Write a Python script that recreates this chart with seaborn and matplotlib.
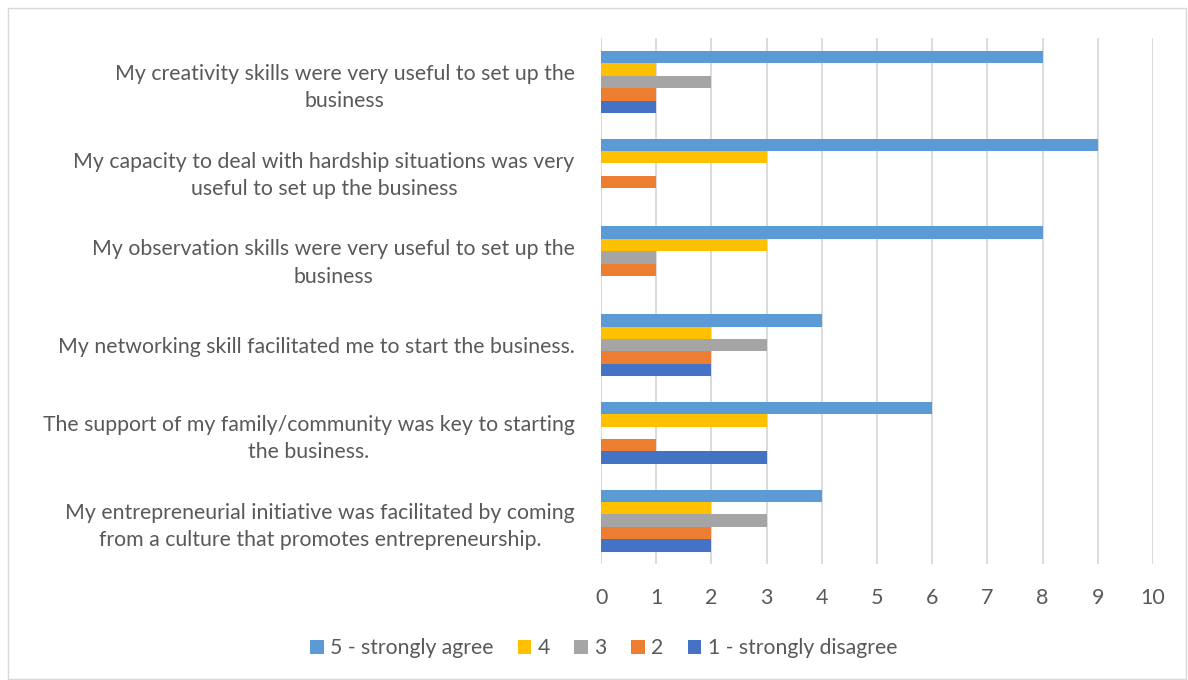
import seaborn as sns
import matplotlib.pyplot as plt
from matplotlib.patches import Rectangle
import pandas as pd

# Survey statements (top to bottom as shown)
statements = [
    "My creativity skills were very useful to set up the\nbusiness",
    "My capacity to deal with hardship situations was very\nuseful to set up the business",
    "My observation skills were very useful to set up the\nbusiness",
    "My networking skill facilitated me to start the business.",
    "The support of my family/community was key to starting\nthe business.",
    "My entrepreneurial initiative was facilitated by coming\nfrom a culture that promotes entrepreneurship.",
]
levels = ["5 - strongly agree", "4", "3", "2", "1 - strongly disagree"]

agree5 = [8, 9, 8, 4, 6, 4]
agree4 = [1, 3, 3, 2, 3, 2]
neutral3 = [2, 0, 1, 3, 0, 3]
disagree2 = [1, 1, 1, 2, 1, 2]
disagree1 = [1, 0, 0, 2, 3, 2]

colors = ["#5B9BD5", "#FFC000", "#A5A5A5", "#ED7D31", "#4472C4"]

rows = []
for lvl, vals in zip(levels, [agree5, agree4, neutral3, disagree2, disagree1]):
    for s, v in zip(statements, vals):
        rows.append({"statement": s, "level": lvl, "count": v})
df = pd.DataFrame(rows)

sns.set_style("white")
plt.rcParams["font.family"] = ["Lato", "DejaVu Sans"]
text_col = "#595959"

fig = plt.figure(figsize=(11.88, 6.8), dpi=100)
ax = fig.add_axes([0.506, 0.17, 0.4645, 0.774])

sns.barplot(data=df, y="statement", x="count", hue="level", order=statements,
            hue_order=levels, palette=colors, orient="h", width=0.706,
            saturation=1, linewidth=0, ax=ax, legend=True)

ax.set_xlim(0, 10)
ax.set_xticks(range(0, 11))
ax.grid(axis="x", color="#D9D9D9", linewidth=1.3)
ax.set_axisbelow(True)
for sp in ax.spines.values():
    sp.set_visible(False)
ax.set_xlabel("")
ax.set_ylabel("")
ax.tick_params(axis="x", length=0, labelsize=15.5, colors=text_col, pad=17)
ax.tick_params(axis="y", length=0, labelsize=15.3, colors=text_col, pad=19)
for lab in ax.get_yticklabels():
    lab.set_multialignment("center")
    lab.set_linespacing(1.45)

handles, labels = ax.get_legend_handles_labels()
ax.get_legend().remove()
fig.legend(handles, labels, loc="center", bbox_to_anchor=(0.508, 0.047), ncol=5,
           frameon=False, fontsize=15.2, labelcolor=text_col, handlelength=0.65,
           handleheight=0.65, handletextpad=0.3, columnspacing=1.15)

fig.patches.append(Rectangle((0.007, 0.002), 0.991, 0.986, transform=fig.transFigure,
                             fill=False, edgecolor="#D9D9D9", linewidth=1))

fig.savefig("out.png", dpi=100)
